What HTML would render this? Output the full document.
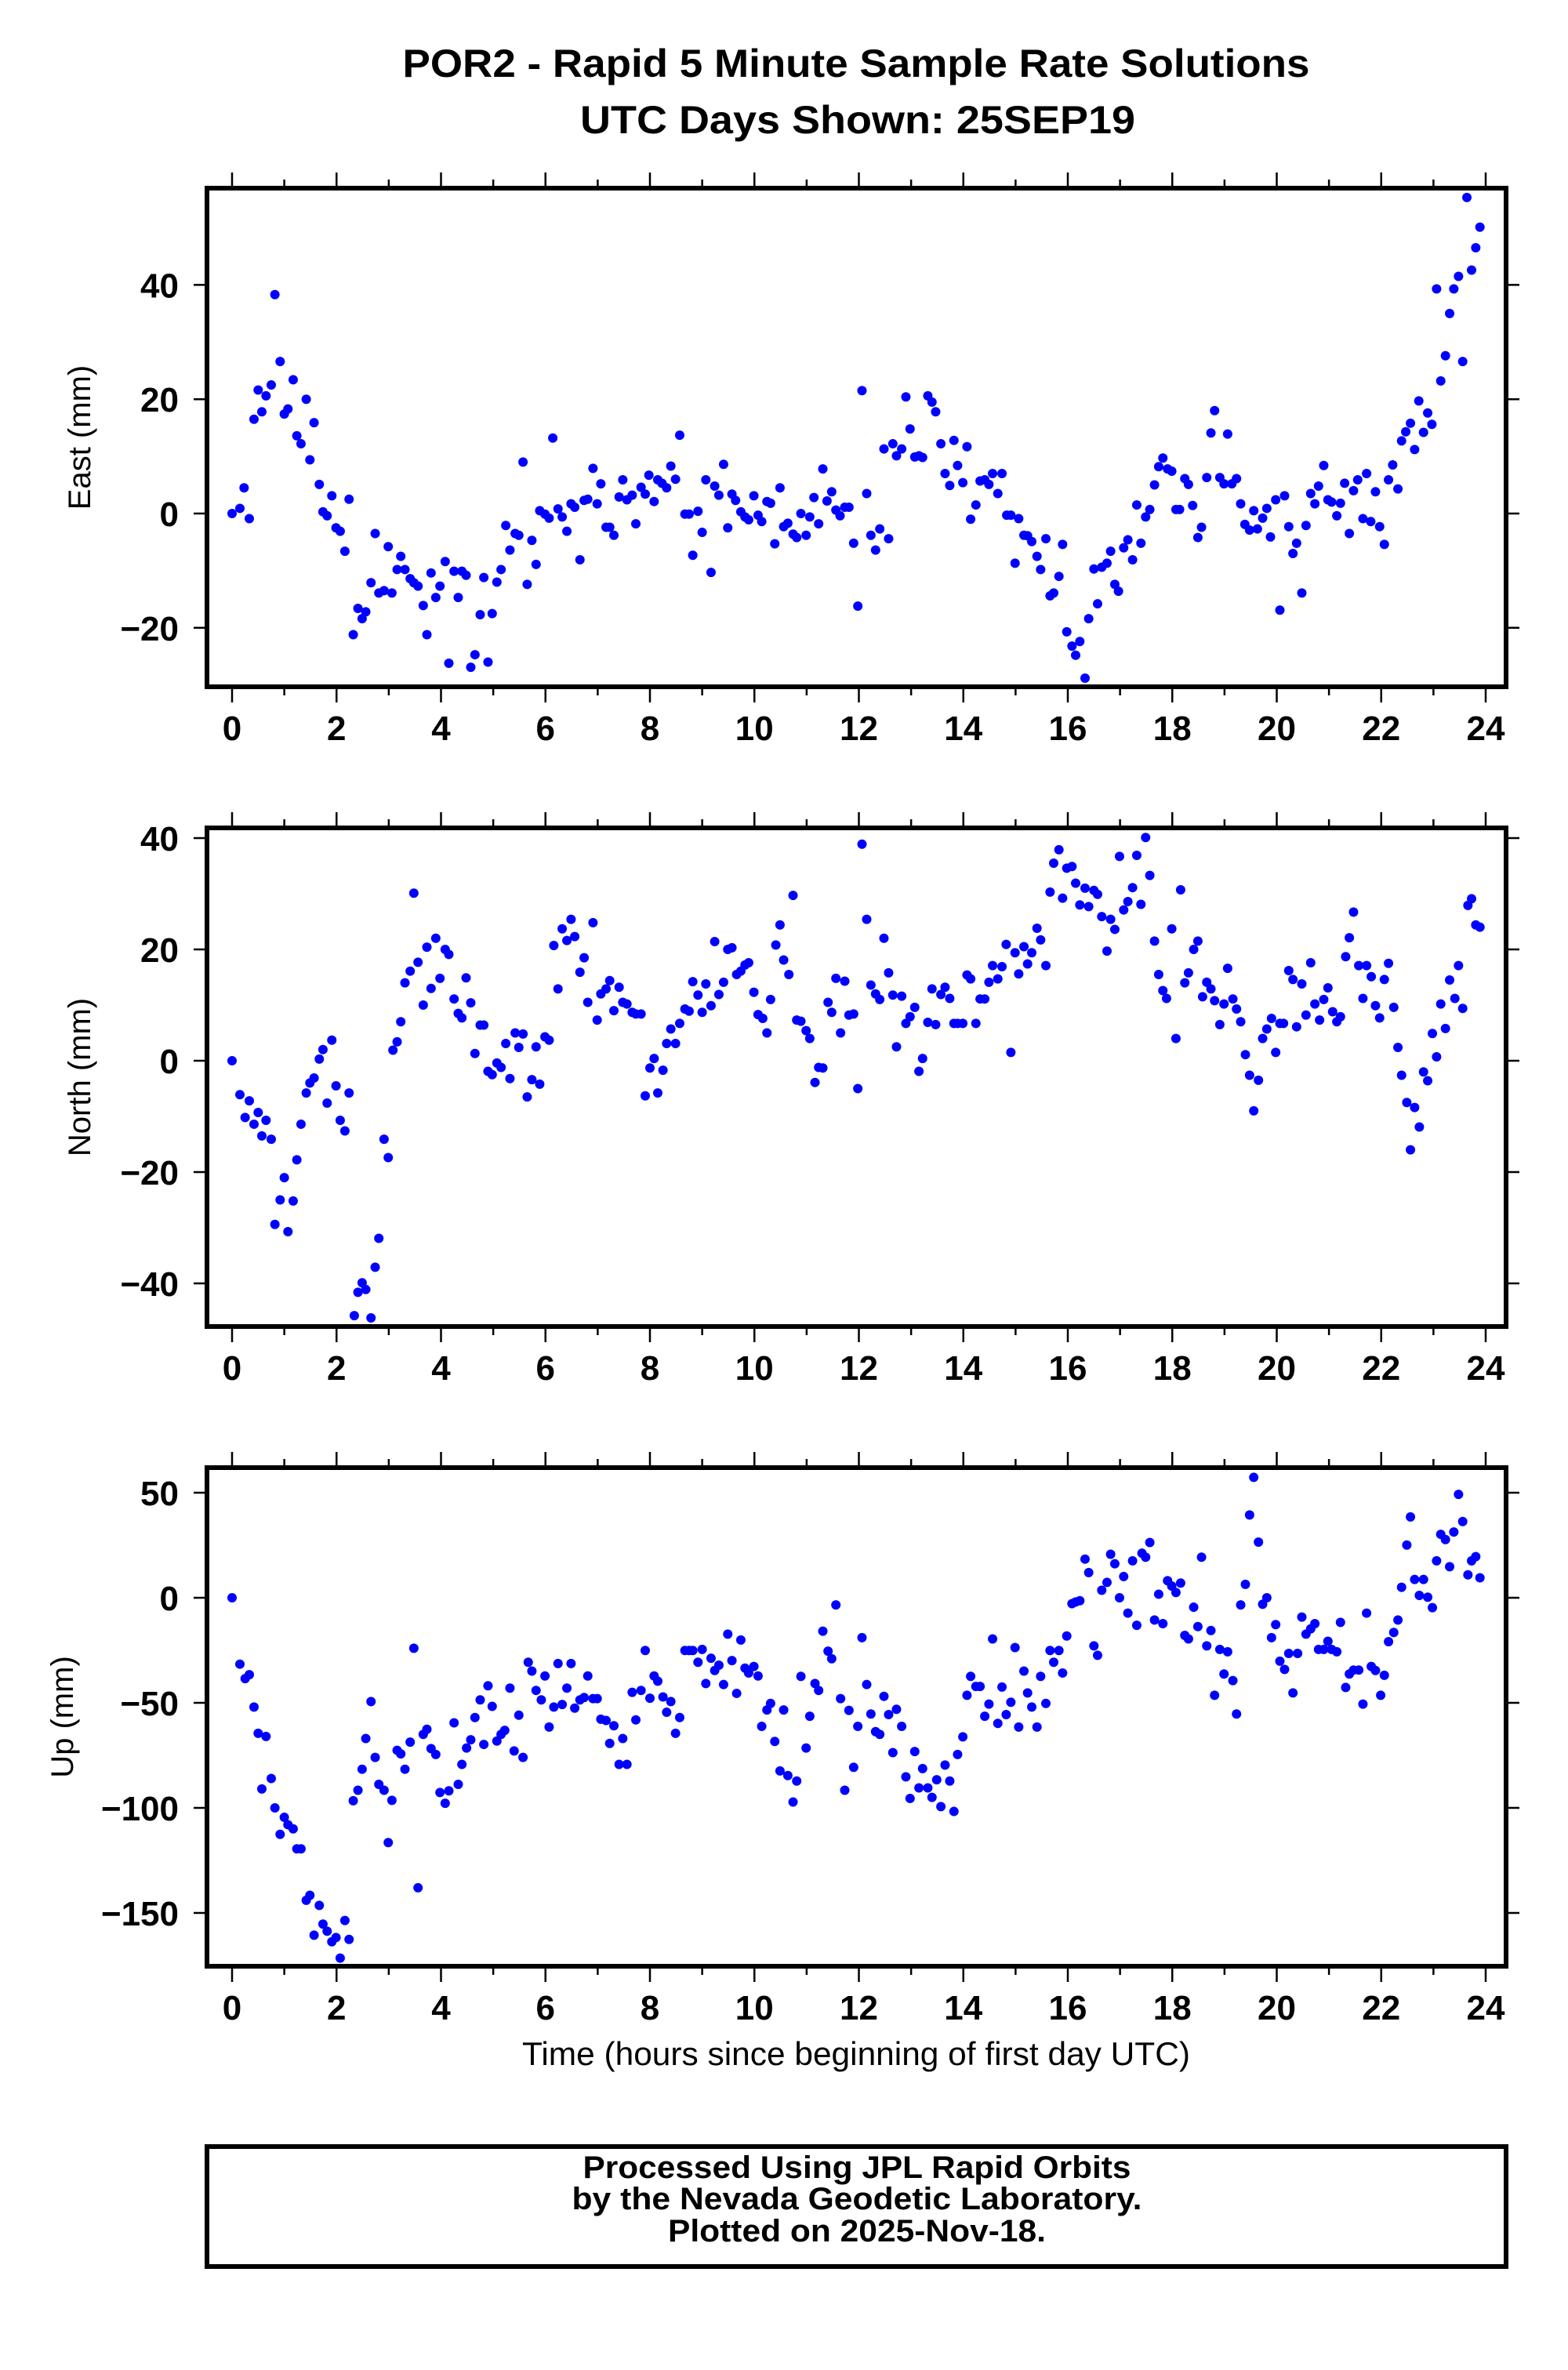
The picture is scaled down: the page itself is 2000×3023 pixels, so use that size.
<!DOCTYPE html>
<html><head><meta charset="utf-8"><style>
html,body{margin:0;padding:0;background:#fff;}
svg{display:block;font-family:"Liberation Sans",sans-serif;}
</style></head><body>
<svg id="chart" width="2000" height="3023" viewBox="0 0 2000 3023" xmlns="http://www.w3.org/2000/svg">
<rect width="2000" height="3023" fill="#fff"/>
<text x="1092" y="98" text-anchor="middle" font-size="50" font-weight="bold" textLength="1157" lengthAdjust="spacingAndGlyphs">POR2 - Rapid 5 Minute Sample Rate Solutions</text>
<text x="1094" y="170" text-anchor="middle" font-size="50" font-weight="bold" textLength="708" lengthAdjust="spacingAndGlyphs">UTC Days Shown:  25SEP19</text>
<text x="1092" y="2634" text-anchor="middle" font-size="42" textLength="852" lengthAdjust="spacingAndGlyphs">Time (hours since beginning of first day UTC)</text>
<rect x="264" y="2738" width="1657" height="153" fill="none" stroke="#000" stroke-width="6"/>
<text x="1093" y="2778" text-anchor="middle" font-size="40" font-weight="bold" textLength="699" lengthAdjust="spacingAndGlyphs">Processed Using JPL Rapid Orbits</text>
<text x="1093" y="2818" text-anchor="middle" font-size="40" font-weight="bold" textLength="727" lengthAdjust="spacingAndGlyphs">by the Nevada Geodetic Laboratory.</text>
<text x="1093" y="2859" text-anchor="middle" font-size="40" font-weight="bold" textLength="482" lengthAdjust="spacingAndGlyphs">Plotted on 2025-Nov-18.</text>
</svg>
<script>
const eastT=[0,0.15,0.23,0.33,0.42,0.5,0.57,0.65,0.75,0.82,0.92,1.0,1.07,1.17,1.24,1.32,1.42,1.49,1.57,1.67,1.74,1.82,1.91,1.99,2.07,2.16,2.24,2.32,2.41,2.49,2.56,2.66,2.74,2.81,2.91,2.99,3.06,3.16,3.23,3.31,3.41,3.48,3.56,3.66,3.73,3.81,3.9,3.98,4.08,4.15,4.25,4.33,4.4,4.48,4.57,4.65,4.75,4.82,4.9,4.98,5.07,5.15,5.24,5.32,5.42,5.49,5.57,5.65,5.74,5.82,5.89,5.99,6.07,6.14,6.24,6.32,6.41,6.49,6.56,6.66,6.74,6.81,6.91,6.99,7.06,7.16,7.23,7.31,7.41,7.48,7.56,7.66,7.73,7.83,7.91,7.98,8.08,8.15,8.23,8.32,8.4,8.49,8.57,8.67,8.75,8.82,8.92,9.0,9.07,9.17,9.24,9.32,9.41,9.49,9.57,9.64,9.74,9.82,9.89,9.99,10.07,10.14,10.24,10.31,10.39,10.49,10.56,10.64,10.74,10.81,10.89,10.99,11.06,11.14,11.23,11.31,11.39,11.48,11.56,11.64,11.73,11.81,11.9,11.98,12.06,12.15,12.23,12.32,12.4,12.48,12.57,12.65,12.72,12.82,12.9,12.98,13.07,13.15,13.22,13.32,13.4,13.47,13.57,13.65,13.74,13.82,13.89,13.99,14.07,14.14,14.24,14.32,14.41,14.49,14.56,14.66,14.74,14.83,14.91,14.99,15.06,15.16,15.23,15.31,15.41,15.48,15.58,15.66,15.73,15.83,15.9,15.98,16.08,16.15,16.23,16.33,16.4,16.5,16.57,16.65,16.75,16.82,16.9,16.97,17.07,17.15,17.24,17.32,17.4,17.49,17.57,17.66,17.74,17.82,17.91,17.99,18.07,18.14,18.24,18.31,18.39,18.49,18.56,18.66,18.74,18.81,18.91,18.99,19.06,19.14,19.23,19.31,19.39,19.48,19.56,19.63,19.73,19.81,19.88,19.98,20.06,20.15,20.23,20.31,20.38,20.48,20.56,20.65,20.73,20.8,20.9,20.98,21.05,21.15,21.22,21.3,21.39,21.47,21.55,21.65,21.72,21.8,21.89,21.97,22.06,22.14,22.22,22.32,22.39,22.47,22.56,22.64,22.72,22.81,22.89,22.97,23.06,23.14,23.23,23.31,23.39,23.48,23.56,23.64,23.73,23.81,23.89];
const eastV=[0,0.9,4.5,-0.9,16.5,21.6,17.8,20.6,22.5,38.3,26.6,17.4,18.3,23.4,13.6,12.2,20,9.4,15.9,5.1,0.3,-0.4,3.1,-2.5,-3.1,-6.6,2.5,-21.2,-16.6,-18.4,-17.2,-12.1,-3.5,-13.9,-13.5,-5.8,-13.9,-9.8,-7.5,-9.8,-11.4,-12.1,-12.7,-16.1,-21.2,-10.4,-14.7,-12.7,-8.4,-26.2,-10.1,-14.7,-10.1,-10.8,-26.9,-24.7,-17.7,-11.2,-26,-17.5,-12,-9.8,-2.1,-6.4,-3.5,-3.8,9,-12.4,-4.7,-8.9,0.5,-0.1,-0.8,13.2,0.8,-0.6,-3.1,1.7,1.1,-8.1,2.3,2.5,7.9,1.7,5.2,-2.4,-2.4,-3.8,2.9,5.9,2.4,3.2,-1.8,4.6,3.4,6.7,2.1,5.9,5.3,4.5,8.3,6,13.7,-0.1,-0.1,-7.3,0.4,-3.3,5.9,-10.3,4.8,3.2,8.6,-2.5,3.4,2.3,0.3,-0.6,-1.1,3.1,-0.3,-1.4,2.1,1.8,-5.3,4.5,-2.3,-1.7,-3.6,-4.2,0,-3.8,-0.6,2.8,-1.8,7.8,2.2,3.8,0.6,-0.4,1.1,1.1,-5.2,-16.2,21.5,3.5,-3.8,-6.4,-2.7,11.3,-4.4,12.2,10.1,11.3,20.4,14.8,9.9,10.1,9.8,20.6,19.5,17.8,12.2,7,4.9,12.8,8.4,5.4,11.7,-1,1.5,5.7,5.9,5.1,7,3.5,7,-0.3,-0.3,-8.7,-0.9,-3.8,-3.9,-4.9,-7.5,-9.8,-4.4,-14.4,-13.9,-11,-5.4,-20.7,-23.2,-24.8,-22.4,-28.8,-18.4,-9.7,-15.8,-9.4,-8.7,-6.6,-12.4,-13.6,-6,-4.6,-8.1,1.5,-5.2,-0.6,0.7,5,8.2,9.7,7.8,7.4,0.7,0.7,6.1,5.1,1.4,-4.2,-2.4,6.3,14.1,18,6.3,5.2,13.9,5.2,6.1,1.7,-1.9,-2.9,0.5,-2.7,-0.8,0.9,-4.1,2.4,-16.9,3.1,-2.3,-7,-5.2,-13.9,-2.1,3.5,1.7,4.8,8.4,2.4,2,-0.4,1.8,5.3,-3.5,4,5.9,-0.9,7,-1.4,3.8,-2.3,-5.4,5.9,8.5,4.3,12.7,14.3,15.8,11.2,19.7,14.2,17.6,15.6,39.3,23.2,27.6,35,39.3,41.5,26.6,55.3,42.6,46.5,50.1];
const northT=[0,0.15,0.25,0.33,0.42,0.5,0.57,0.65,0.75,0.82,0.92,1.0,1.07,1.17,1.24,1.32,1.42,1.49,1.57,1.67,1.74,1.82,1.91,1.99,2.07,2.16,2.24,2.34,2.41,2.49,2.56,2.66,2.74,2.81,2.91,2.99,3.08,3.16,3.23,3.31,3.41,3.48,3.56,3.66,3.73,3.81,3.9,3.98,4.08,4.15,4.25,4.33,4.4,4.48,4.57,4.65,4.75,4.82,4.9,4.98,5.07,5.15,5.24,5.32,5.42,5.49,5.57,5.65,5.74,5.82,5.89,5.99,6.07,6.16,6.24,6.32,6.41,6.49,6.56,6.66,6.74,6.81,6.91,6.99,7.06,7.16,7.23,7.31,7.41,7.48,7.56,7.66,7.73,7.83,7.91,8.0,8.08,8.15,8.25,8.32,8.4,8.49,8.57,8.67,8.75,8.82,8.92,9.0,9.07,9.17,9.24,9.32,9.41,9.49,9.57,9.66,9.74,9.82,9.89,9.99,10.07,10.16,10.24,10.31,10.41,10.49,10.56,10.66,10.74,10.81,10.89,10.99,11.06,11.16,11.23,11.31,11.41,11.48,11.56,11.65,11.73,11.81,11.9,11.98,12.06,12.15,12.23,12.32,12.4,12.48,12.57,12.65,12.72,12.82,12.9,12.98,13.07,13.15,13.22,13.32,13.4,13.47,13.57,13.65,13.74,13.82,13.89,13.99,14.07,14.14,14.24,14.32,14.41,14.49,14.56,14.66,14.74,14.82,14.91,14.99,15.06,15.16,15.23,15.31,15.41,15.48,15.58,15.66,15.73,15.83,15.9,15.98,16.08,16.15,16.23,16.33,16.4,16.5,16.57,16.65,16.75,16.82,16.9,16.99,17.07,17.15,17.24,17.32,17.4,17.49,17.57,17.66,17.74,17.82,17.89,17.99,18.07,18.16,18.24,18.31,18.41,18.49,18.58,18.66,18.74,18.81,18.91,18.99,19.06,19.16,19.23,19.31,19.4,19.48,19.56,19.65,19.73,19.81,19.9,19.98,20.06,20.13,20.23,20.31,20.38,20.48,20.56,20.65,20.73,20.82,20.9,20.98,21.07,21.15,21.22,21.32,21.39,21.47,21.57,21.65,21.72,21.81,21.89,21.97,22.06,22.14,22.24,22.32,22.39,22.49,22.56,22.64,22.73,22.81,22.89,22.98,23.06,23.14,23.23,23.31,23.41,23.48,23.56,23.66,23.73,23.81,23.89];
const northV=[0,-6.1,-10.2,-7.2,-11.4,-9.3,-13.5,-10.7,-14.1,-29.4,-25,-21,-30.7,-25.2,-17.8,-11.4,-5.8,-4,-3.1,0.3,2,-7.6,3.7,-4.5,-10.7,-12.6,-5.8,-45.8,-41.6,-39.9,-41.1,-46.2,-37.1,-31.9,-14.1,-17.4,1.9,3.4,7,14,16.1,30.1,17.7,10,20.4,13,22,14.8,20,19.1,11.1,8.5,7.7,14.9,10.4,1.3,6.4,6.4,-1.9,-2.5,-0.4,-1.2,3.1,-3.2,5,2.4,4.8,-6.5,-3.4,2.5,-4.2,4.3,3.7,20.7,12.9,23.7,21.6,25.4,22.3,15.9,18.5,10.5,24.8,7.3,12,12.9,14.4,9,13.2,10.5,10.2,8.7,8.4,8.4,-6.3,-1.3,0.4,-5.8,-1.7,3.1,5.7,3.1,6.7,9.3,8.9,14.2,11.8,8.7,13.8,9.9,21.4,11.9,14.1,20,20.3,15.5,16.1,17.2,17.6,12.3,8.3,7.6,5,11,20.8,24.4,18.1,15.5,29.7,7.3,7.1,5.4,4,-3.9,-1.2,-1.3,10.5,8.7,14.8,5,14.3,8.2,8.4,-5,38.9,25.4,13.6,12,11,22,15.8,11.8,2.5,11.6,6.7,7.9,9.6,-1.9,0.4,6.9,12.9,6.5,11.9,13.2,11.2,6.7,6.7,6.7,15.4,14.7,6.7,11.1,11.1,14.1,17.1,14.7,16.9,20.9,1.5,19.4,15.6,20.5,17.4,19.4,23.8,21.7,17.1,30.3,35.5,37.9,29.2,34.6,34.9,31.9,28,31,27.7,30.6,29.9,25.9,19.7,25.4,23.6,36.7,27.1,28.6,31.1,36.9,28.1,40.1,33.3,21.5,15.5,12.6,11.2,23.7,4,30.7,14,15.8,20,21.5,11.5,14.1,12.9,10.8,6.5,10.2,16.6,11.1,9.3,7,1.1,-2.6,-9,-3.5,4,5.7,7.6,1.5,6.7,6.7,16.2,14.6,6.1,13.8,8.2,17.6,10.2,7.3,11,13.1,8.8,7,7.9,18.7,22.1,26.7,17.1,11.2,17.1,15.1,9.9,7.7,14.6,17.5,9.6,2.4,-2.6,-7.5,-16,-8.4,-11.9,-2,-3.6,4.9,0.7,10.2,5.8,14.5,11.2,17.1,9.4,27.9,29.1,24.4,24];
const upT=[0,0.15,0.25,0.33,0.42,0.5,0.65,0.57,0.75,0.82,0.92,1.0,1.07,1.17,1.24,1.32,1.42,1.49,1.57,1.67,1.74,1.82,1.91,1.99,2.07,2.16,2.24,2.32,2.41,2.49,2.56,2.66,2.74,2.81,2.91,2.99,3.06,3.16,3.23,3.31,3.41,3.48,3.56,3.66,3.73,3.81,3.9,3.98,4.08,4.15,4.25,4.33,4.4,4.49,4.57,4.65,4.75,4.82,4.9,4.98,5.07,5.15,5.22,5.32,5.4,5.49,5.57,5.67,5.74,5.82,5.92,5.99,6.07,6.16,6.24,6.32,6.41,6.49,6.56,6.66,6.74,6.81,6.91,6.99,7.06,7.16,7.23,7.31,7.41,7.48,7.56,7.66,7.73,7.83,7.91,8.0,8.08,8.15,8.25,8.32,8.4,8.49,8.57,8.67,8.75,8.82,8.92,9.0,9.07,9.17,9.24,9.32,9.41,9.49,9.57,9.66,9.74,9.82,9.89,9.99,10.07,10.14,10.24,10.31,10.39,10.49,10.56,10.64,10.74,10.81,10.89,10.99,11.06,11.16,11.23,11.31,11.41,11.48,11.56,11.65,11.73,11.81,11.9,11.98,12.06,12.15,12.23,12.32,12.4,12.48,12.57,12.65,12.72,12.82,12.9,12.98,13.07,13.15,13.22,13.32,13.4,13.49,13.57,13.65,13.74,13.82,13.89,13.99,14.07,14.14,14.24,14.32,14.41,14.49,14.56,14.66,14.74,14.82,14.91,14.99,15.06,15.16,15.23,15.31,15.41,15.48,15.58,15.66,15.73,15.83,15.9,15.98,16.08,16.15,16.23,16.33,16.4,16.5,16.57,16.65,16.75,16.82,16.9,16.99,17.07,17.15,17.24,17.32,17.42,17.49,17.57,17.66,17.74,17.82,17.91,17.99,18.07,18.16,18.24,18.31,18.41,18.49,18.56,18.66,18.74,18.81,18.91,18.99,19.06,19.16,19.23,19.31,19.4,19.48,19.56,19.65,19.73,19.81,19.9,19.98,20.06,20.15,20.23,20.31,20.4,20.48,20.56,20.65,20.73,20.8,20.9,20.98,21.05,21.15,21.22,21.32,21.39,21.47,21.57,21.65,21.72,21.81,21.89,21.99,22.06,22.14,22.24,22.32,22.39,22.49,22.56,22.64,22.73,22.81,22.89,22.98,23.06,23.14,23.23,23.31,23.39,23.48,23.56,23.66,23.73,23.81,23.89];
const upV=[0,-31.6,-38.5,-36.6,-52,-64.5,-66,-91,-86,-100,-112.6,-104.5,-108,-110,-119.5,-119.5,-144,-141.6,-160.6,-146.4,-155.3,-158.7,-163.7,-161.7,-171.5,-153.6,-162.6,-96.6,-91.6,-81.6,-67,-49.4,-76,-88.8,-91.6,-116.5,-96.4,-72.6,-74.3,-81.6,-68.7,-24,-138,-65,-62.6,-71.8,-74.6,-92.7,-97.8,-91.9,-59.5,-88.8,-79.3,-71.5,-67.6,-57,-48.6,-69.8,-41.9,-51.7,-68.2,-65,-63.1,-43,-72.9,-55.9,-76,-30.7,-34.9,-44.1,-48.6,-37.2,-61.5,-52,-31.3,-50.8,-43,-31.3,-52.5,-48.6,-47.5,-37.2,-48,-48,-57.8,-58.4,-69.3,-60.9,-79.3,-67,-79.3,-45,-58.1,-44.1,-25.1,-47.8,-37.2,-39.7,-47.2,-54.5,-49.4,-64.5,-57,-25.1,-25.1,-25.1,-30.7,-24.6,-40.8,-28.8,-34.6,-32.1,-41.3,-17.3,-29.9,-45.5,-20.1,-33.5,-35.8,-32.7,-37.2,-61.2,-53.4,-50.3,-68.4,-82.4,-53.4,-84.6,-97.2,-87.2,-37.4,-71.5,-56.4,-40.8,-44.1,-15.9,-25.4,-29,-3.4,-48,-91.6,-53.6,-80.7,-61.2,-19,-41.3,-55.3,-63.7,-65,-46.9,-55.6,-73.7,-53.1,-61.2,-85.2,-95.5,-73.2,-90.5,-81.3,-90.5,-95,-86.6,-99.4,-79.6,-87.2,-101.7,-74.6,-66.2,-46.4,-37.4,-42.2,-42.2,-56.4,-50.6,-19.6,-59.8,-42.5,-55.6,-49.7,-23.7,-61.5,-34.9,-45.3,-52,-61.5,-37.4,-50.3,-25.1,-30.7,-25.1,-35.8,-18.2,-2.8,-2,-1.4,18.4,12,-22.9,-27.4,3.6,7.3,20.7,16.2,0,10.1,-7.3,17.6,-13.1,21.2,19.3,26.3,-10.6,1.7,-12.3,8.1,5.6,2.5,7,-17.9,-19.6,-4.5,-13.7,19.3,-22.9,-15.6,-46.4,-24.6,-36.3,-25.7,-39.4,-55.3,-3.4,6.4,39.4,57.3,26.5,-3.1,0,-19,-12.8,-30.2,-34.1,-26.5,-45.3,-26.5,-9.2,-17.3,-14.8,-12.3,-24.6,-24.6,-20.7,-24.6,-25.7,-11.7,-42.7,-36.3,-34.4,-34.4,-50.6,-7.3,-32.7,-34.6,-46.4,-36.9,-20.9,-16.5,-10.6,5,25.1,38.5,8.7,1.1,8.7,0.3,-4.7,17.6,30.2,27.7,14.8,31.3,49.2,36.3,10.9,17.6,19.6,9.5];
const xTicks=[0,2,4,6,8,10,12,14,16,18,20,22,24];
const eastTicks=[-20,0,20,40];
const northTicks=[-40,-20,0,20,40];
const upTicks=[-150,-100,-50,0,50];

const NS='http://www.w3.org/2000/svg';
const svg=document.getElementById('chart');
const X0=296,X1=1895,FL=264,FR=1921;
function xScale(h){return X0+(X1-X0)*h/24;}
function mk(tag,attrs,parent){const e=document.createElementNS(NS,tag);for(const k in attrs)e.setAttribute(k,attrs[k]);(parent||svg).appendChild(e);return e;}

function panel(key,label,top,bot,vTop,vBot,ticks,T,V,labelX){
  const g=mk('g',{});
  
  
  const yScale=v=>top+(vTop-v)/(vTop-vBot)*(bot-top);
  // x ticks top and bottom (major every 2, minor every 1)
  for(let h=0;h<=24;h++){
    const x=xScale(h),len=(h%2===0)?17:8;
    const t1=mk('line',{x1:x,x2:x,y1:top-3,y2:top-3-len,stroke:'#000','stroke-width':2.5},g);
    
    
    const t2=mk('line',{x1:x,x2:x,y1:bot+3,y2:bot+3+len,stroke:'#000','stroke-width':2.5},g);
    
    
  }
  xTicks.forEach(h=>{
    const t=mk('text',{x:xScale(h),y:bot+68,'text-anchor':'middle','font-size':44,'font-weight':'bold'},g);
    t.textContent=String(h);
    
    
  });
  ticks.forEach(v=>{
    const y=yScale(v);
    const l=mk('line',{x1:FL-17,x2:FL,y1:y,y2:y,stroke:'#000','stroke-width':2.5},g);
    
    
    const r=mk('line',{x1:FR,x2:FR+17,y1:y,y2:y,stroke:'#000','stroke-width':2.5},g);
    
    
    const t=mk('text',{x:228,y:y+16,'text-anchor':'end','font-size':44,'font-weight':'bold'},g);
    t.textContent=v<0?'\u2212'+Math.abs(v):String(v);
    
    
  });
  const cy=(top+bot)/2;
  const yl=mk('text',{x:labelX,y:cy,'text-anchor':'middle','font-size':40,transform:'rotate(-90 '+labelX+' '+cy+')'},g);
  yl.textContent=label;
  
  
  for(let i=0;i<T.length;i++){
    const c=mk('circle',{cx:xScale(T[i]),cy:yScale(V[i]),r:6,fill:'#0000ff'},g);
    
    
  }
  const f=mk('rect',{x:FL,y:top,width:FR-FL,height:bot-top,fill:'none',stroke:'#000','stroke-width':6},g);
  
  
}
panel('east','East (mm)',240,876,(655-240)/7.29,-(876-655)/7.29,eastTicks,eastT,eastV,115);
panel('north','North (mm)',1056,1692,40+(1069-1056)/7.1,-(1692-1353)/7.1,northTicks,northT,northV,115);
panel('up','Up (mm)',1872,2508,50+(1904-1872)/2.68,-(2508-2038)/2.68,upTicks,upT,upV,93);
</script>
</body></html>
